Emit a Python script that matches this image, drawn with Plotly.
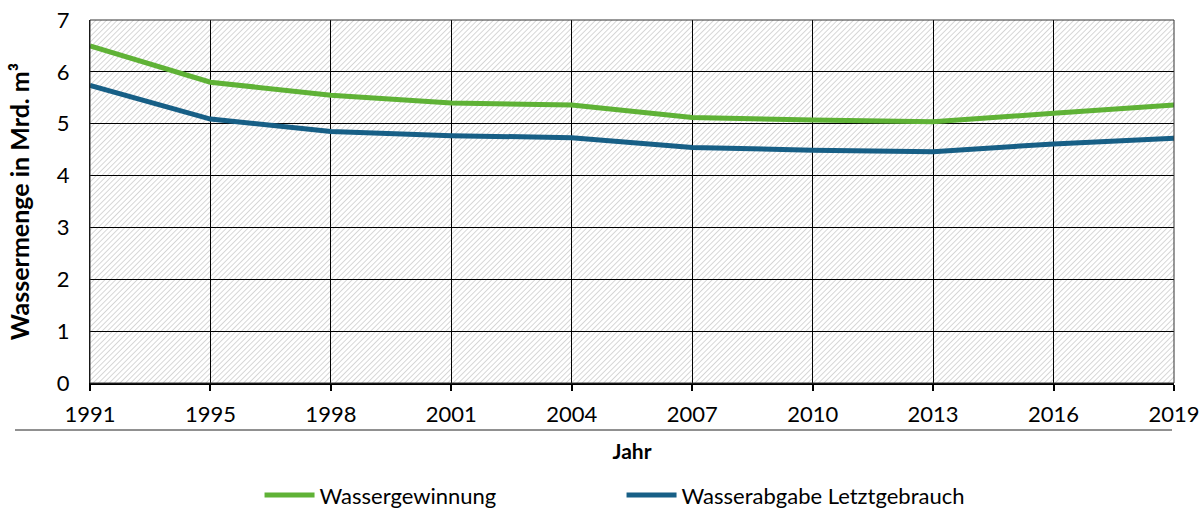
"""
Wassergewinnung und Wasserabgabe an Letztverbraucher 1991-2019 (Mrd. m³).
"""
import base64

import plotly.graph_objects as go

jahre = ["1991", "1995", "1998", "2001", "2004", "2007", "2010", "2013", "2016", "2019"]
wassergewinnung = [6.50, 5.80, 5.55, 5.40, 5.36, 5.12, 5.07, 5.04, 5.20, 5.36]
wasserabgabe = [5.74, 5.09, 4.85, 4.77, 4.73, 4.54, 4.49, 4.46, 4.61, 4.72]
y_max = 7

FONT = "Lato, 'Open Sans', sans-serif"
GRUEN = "#5fb236"
BLAU = "#175f86"

W, H = 1204, 518
M = dict(l=90, r=30, t=20, b=135)
plot_w = W - M["l"] - M["r"]
plot_h = H - M["t"] - M["b"]

# Schraffur als SVG-Hintergrundbild der Zeichenfläche (unter den Gitterlinien)
svg = (
    f'<svg xmlns="http://www.w3.org/2000/svg" width="{plot_w}" height="{plot_h}">'
    '<defs><pattern id="h" width="3.8" height="3.8" patternUnits="userSpaceOnUse" '
    'patternTransform="rotate(45)">'
    '<line x1="0" y1="0" x2="0" y2="3.8" stroke="#c8c8c8" stroke-width="1.45"/>'
    '</pattern></defs>'
    '<rect width="100%" height="100%" fill="white"/>'
    '<rect width="100%" height="100%" fill="url(#h)"/></svg>'
)
hatch_src = "data:image/svg+xml;base64," + base64.b64encode(svg.encode()).decode()

fig = go.Figure()

fig.add_trace(go.Scatter(
    x=jahre, y=wassergewinnung, name="Wassergewinnung",
    mode="lines", line=dict(color=GRUEN, width=5),
))
fig.add_trace(go.Scatter(
    x=jahre, y=wasserabgabe, name="Wasserabgabe Letztgebrauch",
    mode="lines", line=dict(color=BLAU, width=5),
))

fig.update_layout(
    width=W, height=H,
    margin=dict(**M, autoexpand=False),
    plot_bgcolor="rgba(0,0,0,0)", paper_bgcolor="white",
    font=dict(family=FONT, size=20, color="black"),
    images=[dict(
        source=hatch_src, xref="paper", yref="paper",
        x=0, y=1, sizex=1, sizey=1, xanchor="left", yanchor="top",
        sizing="stretch", layer="below",
    )],
    xaxis=dict(
        type="category", range=[0, len(jahre) - 1],
        showgrid=True, gridcolor="black", gridwidth=1,
        showline=True, linecolor="black", linewidth=2,
        ticks="outside", ticklen=6, tickwidth=2, tickcolor="black",
        tickfont=dict(size=22), ticklabelstandoff=5,
        title=dict(text="<b>Jahr</b>", font=dict(size=21), standoff=18),
    ),
    yaxis=dict(
        range=[0, y_max], dtick=1,
        showgrid=True, gridcolor="black", gridwidth=1,
        showline=True, linecolor="black", linewidth=1,
        ticks="", tickfont=dict(size=22), ticklabelstandoff=15,
        zeroline=False,
        title=dict(text="<b>Wassermenge in Mrd. m³</b>", font=dict(size=25), standoff=20),
    ),
    legend=dict(
        orientation="h", x=0.1564, y=-0.309, xanchor="left", yanchor="middle",
        font=dict(size=22), itemwidth=50, entrywidth=297,
    ),
)

# Trennlinie über der Legende
fig.add_shape(type="line", xref="paper", yref="paper",
              x0=(15 - M["l"]) / plot_w, x1=(1172 - M["l"]) / plot_w,
              y0=-(430 - (H - M["b"])) / plot_h, y1=-(430 - (H - M["b"])) / plot_h,
              line=dict(color="#222222", width=1))
# Rahmen oben und rechts
fig.add_shape(type="rect", xref="paper", yref="paper", x0=0, x1=1, y0=0, y1=1,
              line=dict(color="#333333", width=1), layer="above")

fig.write_html("out.html", config=dict(displayModeBar=False),
               post_script="document.body.style.margin='0';")
